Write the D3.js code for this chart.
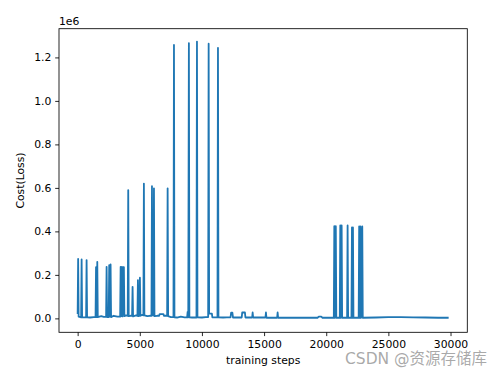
<!DOCTYPE html>
<html>
<head>
<meta charset="utf-8">
<script src="https://cdn.jsdelivr.net/npm/d3@7"></script>
<style>
    body { margin: 0; background: #fff; }
    text { font-family: "DejaVu Sans", sans-serif; }
</style>
</head>
<body>
<script>
// training step of each logged point
var steps = [
    0, 40, 80, 280, 320, 360, 680, 720, 760, 1000,
    1300, 1440, 1480, 1530, 1580, 1620, 1900, 2100, 2290, 2330,
    2370, 2500, 2540, 2600, 2650, 2690, 2900, 3200, 3420, 3460,
    3510, 3560, 3610, 3660, 3720, 3760, 3900, 4030, 4070, 4110,
    4250, 4380, 4420, 4460, 4700, 4810, 4850, 4890, 4970, 5010,
    5050, 5200, 5290, 5330, 5370, 5600, 5800, 5940, 5980, 6020,
    6100, 6140, 6180, 6400, 6560, 6600, 6900, 6940, 7200, 7240,
    7280, 7500, 7710, 7750, 7790, 8000, 8300, 8600, 8810, 8850,
    8900, 8950, 8990, 9200, 9560, 9600, 9640, 10000, 10300, 10500,
    10540, 10580, 10800, 10840, 11250, 11290, 11330, 11700, 12000, 12300,
    12350, 12450, 12500, 13000, 13200, 13240, 13460, 13500, 14040, 14080,
    14120, 15110, 15150, 15190, 16050, 16090, 16130, 17000, 18000, 19300,
    19400, 19600, 19700, 20500, 20610, 20650, 20700, 20770, 20810, 21090,
    21130, 21170, 21240, 21280, 21680, 21720, 21760, 22030, 22070, 22110,
    22150, 22190, 22610, 22650, 22700, 22750, 22800, 22900, 22940, 24000,
    25000, 26000, 27000, 28000, 29000, 29850
];
// cost (loss) at each step
var cost = [
    20000, 273000, 8000, 5000, 271000, 5000, 5000, 268000, 5000, 4000,
    6000, 6000, 236000, 6000, 260000, 6000, 10000, 7000, 7000, 237000,
    6000, 6000, 245000, 8000, 248000, 6000, 12000, 8000, 8000, 237000,
    10000, 237000, 9000, 236000, 236000, 10000, 14000, 12000, 590000, 10000,
    12000, 12000, 145000, 9000, 14000, 12000, 176000, 10000, 12000, 187000,
    12000, 16000, 14000, 620000, 14000, 10000, 12000, 12000, 608000, 14000,
    14000, 598000, 10000, 12000, 12000, 20000, 20000, 12000, 12000, 598000,
    10000, 6000, 6000, 1257000, 5000, 4000, 8000, 5000, 5000, 30000,
    5000, 1266000, 5000, 4000, 4000, 1273000, 5000, 4000, 6000, 6000,
    1263000, 22000, 22000, 5000, 5000, 1244000, 5000, 4000, 5000, 5000,
    26000, 26000, 4000, 4000, 4000, 27000, 27000, 4000, 4000, 27000,
    4000, 4000, 27000, 3000, 3000, 27000, 3000, 3000, 3000, 3000,
    8000, 8000, 3000, 3000, 3000, 424000, 3000, 424000, 3000, 3000,
    427000, 3000, 427000, 3000, 3000, 427000, 3000, 3000, 418000, 3000,
    418000, 3000, 3000, 423000, 3000, 423000, 3000, 423000, 3000, 4000,
    6000, 6000, 5000, 4000, 3000, 3000
];
var xTicks = [0, 5000, 10000, 15000, 20000, 25000, 30000];
var yTicks = [0, 200000, 400000, 600000, 800000, 1000000, 1200000];

function draw_chart() {
    var width = 500,
        height = 371;
    var plotLeft = 59, plotRight = 467.3, plotTop = 28.7, plotBottom = 332.3;

    var svg = d3.select("body")
        .append("svg")
        .attr("width", width)
        .attr("height", height);

    var x = d3.scaleLinear().domain([-1500, 31350]).range([plotLeft, plotRight]);
    var y = d3.scaleLinear().domain([-64000, 1332000]).range([plotBottom, plotTop]);

    var points = steps.map(function(s, i) { return [s, cost[i]]; });

    var line = d3.line()
        .x(function(d) { return x(d[0]); })
        .y(function(d) { return y(d[1]); });

    svg.append("path")
        .datum(points)
        .attr("d", line)
        .style("fill", "none")
        .style("stroke", "#1f77b4")
        .style("stroke-width", 1.8)
        .style("stroke-linejoin", "round");

    // axes
    var xAxis = d3.axisBottom(x)
        .tickValues(xTicks)
        .tickSize(3.8)
        .tickPadding(3.8)
        .tickFormat(d3.format("d"));
    var yAxis = d3.axisLeft(y)
        .tickValues(yTicks)
        .tickSize(3.8)
        .tickPadding(3.8)
        .tickFormat(function(d) { return (d / 1e6).toFixed(1); });

    var gx = svg.append("g")
        .attr("transform", "translate(0," + plotBottom + ")")
        .call(xAxis);
    var gy = svg.append("g")
        .attr("transform", "translate(" + plotLeft + ",0)")
        .call(yAxis);

    [gx, gy].forEach(function(g) {
        g.select(".domain").remove();
        g.selectAll("line").style("stroke", "#000").style("stroke-width", 0.85);
        g.selectAll("text")
            .style("font-size", "10.8px")
            .style("fill", "#000")
            .style("font-family", '"DejaVu Sans", sans-serif');
    });

    // frame
    svg.append("rect")
        .attr("x", plotLeft)
        .attr("y", plotTop)
        .attr("width", plotRight - plotLeft)
        .attr("height", plotBottom - plotTop)
        .style("fill", "none")
        .style("stroke", "#000")
        .style("stroke-width", 0.85);

    // offset text
    svg.append("text")
        .attr("x", plotLeft)
        .attr("y", plotTop - 4)
        .style("font-size", "10.8px")
        .text("1e6");

    svg.append("text")
        .attr("x", (plotLeft + plotRight) / 2)
        .attr("y", 364)
        .attr("text-anchor", "middle")
        .style("font-size", "10.8px")
        .text("training steps");

    svg.append("text")
        .attr("transform", "translate(24," + ((plotTop + plotBottom) / 2) + ") rotate(-90)")
        .attr("text-anchor", "middle")
        .style("font-size", "10.8px")
        .text("Cost(Loss)");

    // watermark
    svg.append("text")
        .attr("x", 345)
        .attr("y", 364)
        .style("font-size", "15.5px")
        .style("font-family", '"DejaVu Sans", "Noto Sans CJK SC", sans-serif')
        .style("fill", "#9a9a9a")
        .style("fill-opacity", 0.85)
        .text("CSDN @资源存储库");
}

draw_chart();
</script>
</body>
</html>
